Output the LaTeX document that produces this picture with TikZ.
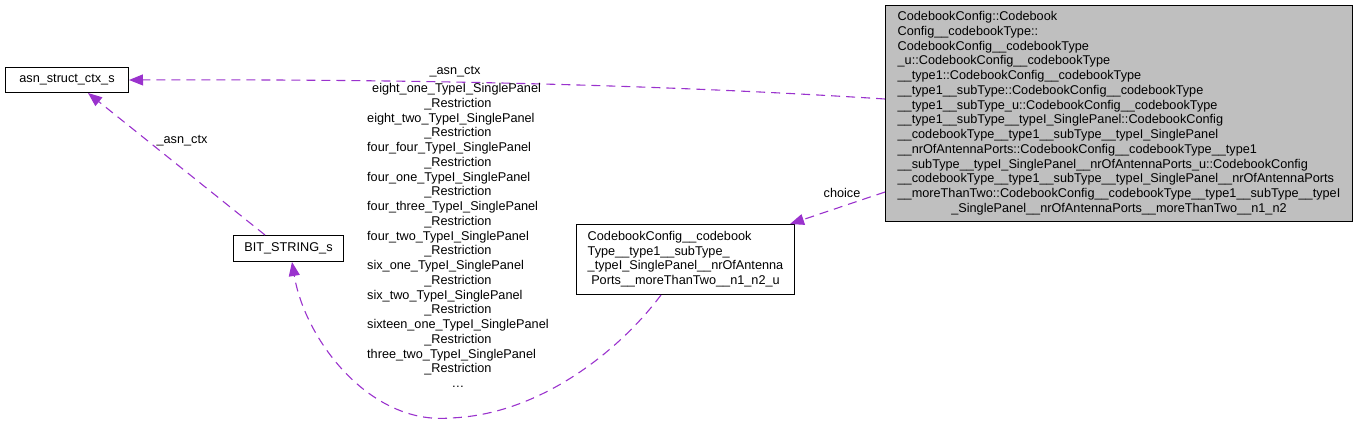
\documentclass[tikz,border=0pt]{standalone}
\usepackage{fontspec}
\setmainfont{Liberation Sans}
\usetikzlibrary{arrows.meta,calc}
\definecolor{edgepurple}{HTML}{9A32CD}
\definecolor{boxgray}{HTML}{BFBFBF}
\newcommand\ctrrow[1]{\multicolumn{1}{@{}c@{}}{#1}}
\begin{document}
\begin{tikzpicture}[x=1pt,y=-1pt, font=\fontsize{12.7}{14.75}\selectfont,
  box/.style={draw=black, line width=1pt, fill=white, inner sep=0pt},
  rel/.style={draw=edgepurple, line width=1.1pt, dash pattern=on 9pt off 6pt,
    -{Triangle[length=14pt,width=11pt,fill=edgepurple]}},
  lbl/.style={inner sep=0pt}]
\useasboundingbox (0,0) rectangle (1357,425);

\node[box, minimum width=123, minimum height=25, anchor=north west] (asn) at (5,67) {asn\_struct\_ctx\_s};
\node[box, minimum width=110, minimum height=26, anchor=north west] (bit) at (233,235) {BIT\_STRING\_s};
\node[box, minimum width=218, minimum height=70, anchor=north west] (cbu) at (576,224) {\begin{tabular}{@{}l@{}}
CodebookConfig\_\_codebook\\
Type\_\_type1\_\_subType\_\\
\_typeI\_SinglePanel\_\_nrOfAntenna\\
\ctrrow{Ports\_\_moreThanTwo\_\_n1\_n2\_u}
\end{tabular}};
\node[box, fill=boxgray, minimum width=467, minimum height=216, anchor=north west] (main) at (885,5) {\begin{tabular}{@{}l@{}}
CodebookConfig::Codebook\\
Config\_\_codebookType::\\
CodebookConfig\_\_codebookType\\
\_u::CodebookConfig\_\_codebookType\\
\_\_type1::CodebookConfig\_\_codebookType\\
\_\_type1\_\_subType::CodebookConfig\_\_codebookType\\
\_\_type1\_\_subType\_u::CodebookConfig\_\_codebookType\\
\_\_type1\_\_subType\_\_typeI\_SinglePanel::CodebookConfig\\
\_\_codebookType\_\_type1\_\_subType\_\_typeI\_SinglePanel\\
\_\_nrOfAntennaPorts::CodebookConfig\_\_codebookType\_\_type1\\
\_\_subType\_\_typeI\_SinglePanel\_\_nrOfAntennaPorts\_u::CodebookConfig\\
\_\_codebookType\_\_type1\_\_subType\_\_typeI\_SinglePanel\_\_nrOfAntennaPorts\\
\_\_moreThanTwo::CodebookConfig\_\_codebookType\_\_type1\_\_subType\_\_typeI\\
\ctrrow{\_SinglePanel\_\_nrOfAntennaPorts\_\_moreThanTwo\_\_n1\_n2}
\end{tabular}};

\draw[rel] (main.west |- 0,99) .. controls (650,84) and (400,79) .. (asn.east);
\draw[rel] (bit.north -| 265,0) -- (asn.south -| 88,0);
\draw[rel] (cbu.south -| 661,0) .. controls (620,350) and (540,415) .. (450,418)
  .. controls (370,425) and (305,340) .. (bit.south -| 292,0);
\draw[rel] (main.west |- 0,192) -- (cbu.north -| 790,0);

\node[lbl] (l1) at (455,72) {\_asn\_ctx};
\node[lbl] (l2) at (182,141) {\_asn\_ctx};
\node[lbl] (l4) at (842,193) {choice};
\node[lbl, anchor=north west] (l3) at (367,82) {\begin{tabular}{@{}l@{}}
\hspace{5pt}eight\_one\_TypeI\_SinglePanel\\
\ctrrow{\_Restriction}\\
eight\_two\_TypeI\_SinglePanel\\
\ctrrow{\_Restriction}\\
four\_four\_TypeI\_SinglePanel\\
\ctrrow{\_Restriction}\\
four\_one\_TypeI\_SinglePanel\\
\ctrrow{\_Restriction}\\
four\_three\_TypeI\_SinglePanel\\
\ctrrow{\_Restriction}\\
four\_two\_TypeI\_SinglePanel\\
\ctrrow{\_Restriction}\\
six\_one\_TypeI\_SinglePanel\\
\ctrrow{\_Restriction}\\
six\_two\_TypeI\_SinglePanel\\
\ctrrow{\_Restriction}\\
sixteen\_one\_TypeI\_SinglePanel\\
\ctrrow{\_Restriction}\\
three\_two\_TypeI\_SinglePanel\\
\ctrrow{\_Restriction}\\
\ctrrow{\dots}
\end{tabular}};
\end{tikzpicture}
\end{document}
